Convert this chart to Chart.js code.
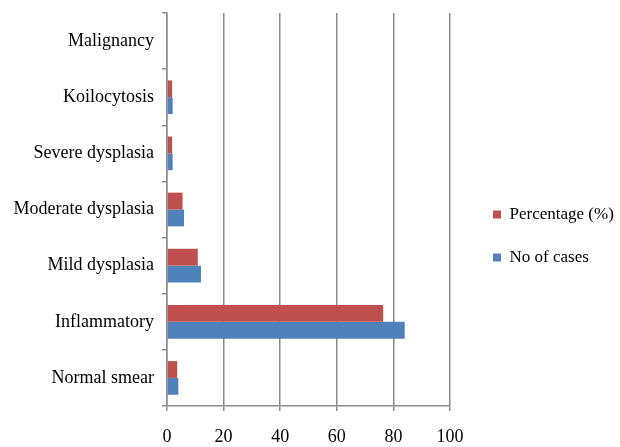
<!DOCTYPE html>
<html>
<head>
<meta charset="utf-8">
<script src="https://cdn.jsdelivr.net/npm/chart.js@4/dist/chart.umd.min.js"></script>
<style>
  html, body { margin: 0; padding: 0; background: #fff; }
  #wrap { width: 620px; height: 447px; position: relative; }
</style>
</head>
<body>
<div id="wrap"><canvas id="c"></canvas></div>
<script>
// Cervical smear findings
const categories = ['Malignancy', 'Koilocytosis', 'Severe dysplasia', 'Moderate dysplasia', 'Mild dysplasia', 'Inflammatory', 'Normal smear'];
const percentage = [0, 1.8, 1.8, 5.5, 10.9, 76.4, 3.6];
const noOfCases = [0, 2, 2, 6, 12, 84, 4];
const xTicks = [0, 20, 40, 60, 80, 100];

const SERIF = '"Liberation Serif", "Times New Roman", serif';
const AXIS_FONT = { family: SERIF, size: 18 };
const LEGEND_FONT = { family: SERIF, size: 17 };
const GRID = '#8c8c8c';

// nudge the right-hand legend away from the plot
const legendOffset = {
  id: 'legendOffset',
  afterLayout(chart) {
    const lg = chart.legend;
    if (!lg) return;
    lg.left += 17; lg.right += 17;
    lg.top += 6; lg.bottom += 6;
  }
};

new Chart(document.getElementById('c'), {
  type: 'bar',
  data: {
    labels: categories,
    datasets: [
      { label: 'Percentage (%)', data: percentage, backgroundColor: '#C0504D', borderWidth: 0 },
      { label: 'No of cases', data: noOfCases, backgroundColor: '#4F81BD', borderWidth: 0 }
    ]
  },
  plugins: [legendOffset],
  options: {
    indexAxis: 'y',
    responsive: true,
    maintainAspectRatio: false,
    animation: false,
    datasets: { bar: { categoryPercentage: 0.6, barPercentage: 1.0 } },
    layout: { padding: { top: 13, left: 0, right: 20, bottom: 0 } },
    plugins: {
      tooltip: { enabled: false },
      legend: {
        position: 'right',
        align: 'center',
        labels: {
          color: '#000',
          font: LEGEND_FONT,
          boxWidth: 8,
          boxHeight: 8,
          padding: 26
        }
      }
    },
    scales: {
      x: {
        min: 0,
        max: 100,
        afterBuildTicks: (s) => { s.ticks = xTicks.map(v => ({ value: v })); },
        afterFit: (s) => { s.height = 41; s.paddingLeft = 0; s.paddingRight = 0; },
        grid: { color: GRID, lineWidth: 1.5, tickLength: 5, drawTicks: true },
        border: { color: GRID, width: 1.5 },
        ticks: { color: '#000', font: AXIS_FONT, padding: 15, maxRotation: 0 }
      },
      y: {
        afterFit: (s) => { s.width = 167; s.paddingTop = 0; s.paddingBottom = 0; },
        grid: { offset: true, drawOnChartArea: false, color: GRID, lineWidth: 1.5, tickLength: 5 },
        border: { color: GRID, width: 1.5 },
        ticks: { color: '#000', font: AXIS_FONT, padding: 8 }
      }
    }
  }
});
</script>
</body>
</html>
